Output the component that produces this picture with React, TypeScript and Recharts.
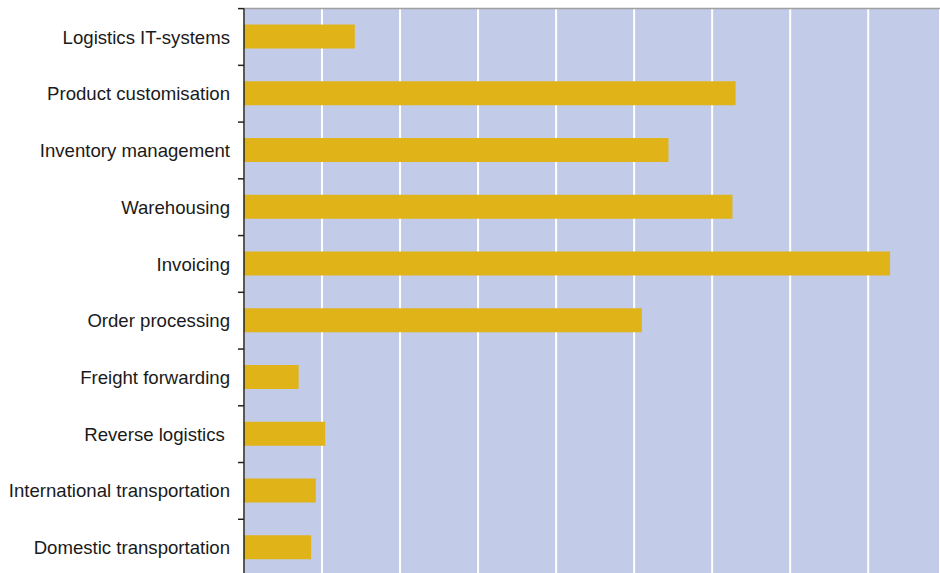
import React from 'react';
import { BarChart, Bar, XAxis, YAxis, CartesianGrid } from 'recharts';

const categories = [
  'Logistics IT-systems',
  'Product customisation',
  'Inventory management',
  'Warehousing',
  'Invoicing',
  'Order processing',
  'Freight forwarding',
  'Reverse logistics\u00a0',
  'International transportation',
  'Domestic transportation',
];
const values = [7.1, 31.5, 27.2, 31.3, 41.4, 25.5, 3.5, 5.2, 4.6, 4.3];
const xTicks = [0, 5, 10, 15, 20, 25, 30, 35, 40];
const xMax = 44.6;

const data = categories.map((name, i) => ({ name, value: values[i] }));

const TICK_SIZE = 6;
const TICK_MARGIN = 8;

function CategoryTick(props: any) {
  const { x, y, payload, index } = props;
  const half = payload && typeof payload.offset === 'number' ? payload.offset : 0;
  const axisX = x + TICK_SIZE + TICK_MARGIN;
  const last = index === categories.length - 1;
  return (
    <g>
      <line x1={axisX - TICK_SIZE} x2={axisX} y1={y - half} y2={y - half} stroke="#222222" strokeWidth={1.5} />
      {last && (
        <line x1={axisX - TICK_SIZE} x2={axisX} y1={y + half} y2={y + half} stroke="#222222" strokeWidth={1.5} />
      )}
      <text
        x={x}
        y={y}
        dy="0.355em"
        textAnchor="end"
        fill="#1a1a1a"
        fontSize={18.6}
        fontFamily="Liberation Sans, Arial, sans-serif"
        style={{ whiteSpace: 'pre' }}
      >
        {payload.value}
      </text>
    </g>
  );
}

export default function App() {
  return (
    <div style={{ position: 'absolute', left: 0, top: 0, width: 940, height: 573, overflow: 'hidden', background: '#fff' }}>
      <BarChart
        width={940}
        height={576}
        data={data}
        layout="vertical"
        margin={{ top: 7.6, right: 0, bottom: 0, left: 0 }}
        barSize={24}
      >
        <CartesianGrid
          horizontal={false}
          vertical={true}
          fill="#C2CBE8"
          fillOpacity={1}
          stroke="#FFFFFF"
          strokeWidth={2}
        />
        <XAxis
          type="number"
          orientation="top"
          domain={[0, xMax]}
          ticks={xTicks}
          height={1}
          tickFormatter={() => ''}
          tickLine={false}
          axisLine={{ stroke: '#A0A0A0', strokeWidth: 1.5 }}
        />
        <YAxis
          type="category"
          dataKey="name"
          width={244}
          tickLine={false}
          tickSize={TICK_SIZE}
          tickMargin={TICK_MARGIN}
          axisLine={{ stroke: '#222222', strokeWidth: 1.5 }}
          tick={<CategoryTick />}
          interval={0}
        />
        <Bar dataKey="value" fill="#E0B318" isAnimationActive={false} />
      </BarChart>
    </div>
  );
}
